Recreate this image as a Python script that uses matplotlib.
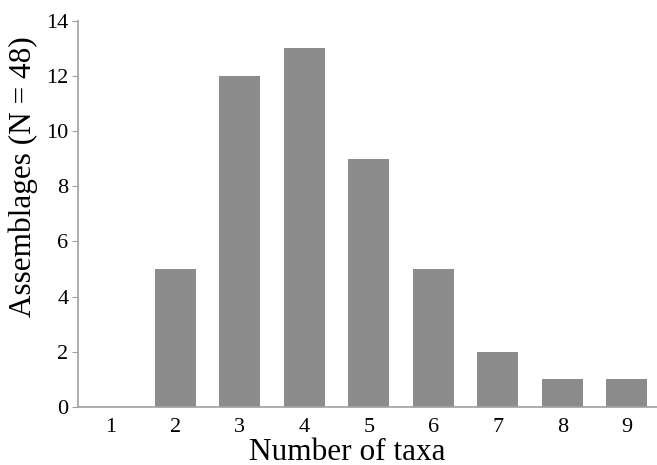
import matplotlib.pyplot as plt

taxa = [1, 2, 3, 4, 5, 6, 7, 8, 9]
assemblages = [0, 5, 12, 13, 9, 5, 2, 1, 1]
y_ticks = [0, 2, 4, 6, 8, 10, 12, 14]

plt.rcParams['font.family'] = ['Liberation Serif', 'DejaVu Serif']

fig = plt.figure(figsize=(6.57, 4.65), dpi=100)
ax = fig.add_axes([0.1187, 0.1247, 0.8813, 0.831])

ax.bar(taxa, assemblages, width=0.64, color='#8c8c8c')

ax.set_xlim(0.49, 9.47)
ax.set_ylim(0, 14)
ax.set_xticks(taxa)
ax.set_yticks(y_ticks)
ax.tick_params(axis='x', length=0, labelsize=16, pad=8)
ax.tick_params(axis='y', length=4, color='#a0a0a0', labelsize=16, pad=3)

for side in ['top', 'right']:
    ax.spines[side].set_visible(False)
for side in ['left', 'bottom']:
    ax.spines[side].set_color('#a0a0a0')
    ax.spines[side].set_linewidth(1.2)

ax.set_xlabel('Number of taxa', fontsize=22.5)
ax.set_ylabel('Assemblages (N = 48)', fontsize=22.5)
# labels sit off-centre in the original
ax.xaxis.set_label_coords(0.465, -0.079)
ax.yaxis.set_label_coords(-0.069, 0.597)

fig.savefig('out.png', dpi=100)
